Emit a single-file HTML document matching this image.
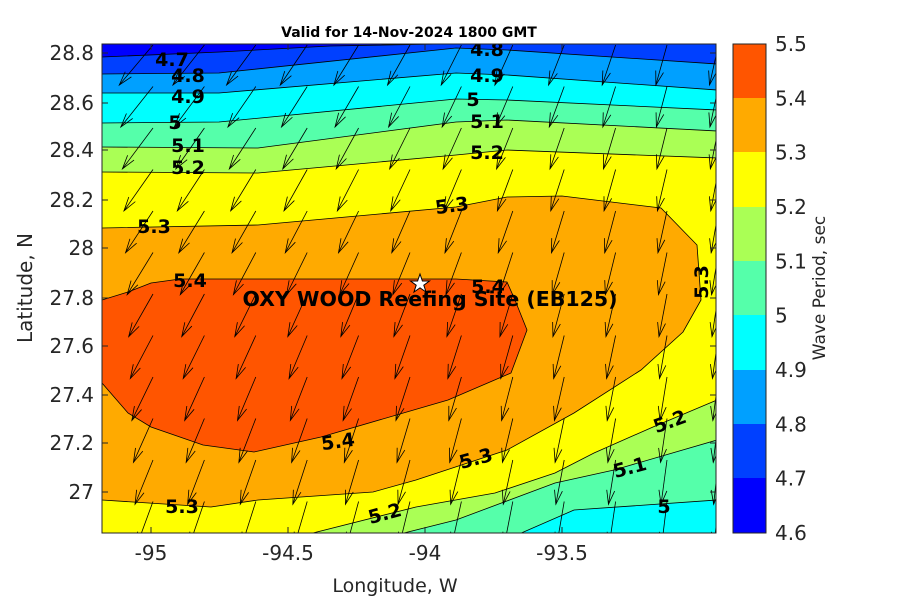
<!DOCTYPE html>
<html><head><meta charset="utf-8"><style>
html,body{margin:0;padding:0;background:#fff;}
svg{display:block;font-family:"DejaVu Sans","Liberation Sans",sans-serif;}
</style></head><body>
<svg id="s" width="900" height="600" viewBox="0 0 900 600" xmlns="http://www.w3.org/2000/svg">
<defs><clipPath id="c"><rect x="102" y="44" width="614" height="489"/></clipPath></defs>
<g clip-path="url(#c)">
<rect x="102" y="44" width="614" height="489" fill="#ffff00"/>
<polygon fill="#aaff55" points="102,30 102,172 258,173 456,155 507,150 717,158 717,30"/>
<polygon fill="#55ffaa" points="102,30 102,147 258,148 456,122 507,120 717,131 717,30"/>
<polygon fill="#00ffff" points="102,30 102,123 219,122 456,99 507,100 717,110 717,30"/>
<polygon fill="#00a0ff" points="102,30 102,93 219,93 456,73 507,75 717,90 717,30"/>
<polygon fill="#0040ff" points="102,30 102,74 219,73 456,48 507,50 717,64 717,30"/>
<polygon fill="#0000ff" points="102,30 102,57 220,52 330,46 440,44 440,30"/>
<polygon fill="#aaff55" points="309,540 309,534 416,507 495,493 555,473 594,453 653,427 717,400 717,540"/>
<polygon fill="#55ffaa" points="400,540 400,534 456,520 555,483 614,470 717,440 717,540"/>
<polygon fill="#00ffff" points="519,540 519,534 574,510 717,500 717,540"/>
<polygon fill="#ffaa00" points="102,228 258,225 456,207 507,197 562,196 661,208 697,245 701,300 683,332 641,370 574,413 507,450 416,480 373,492 258,500 211,507 102,500"/>
<polygon fill="#ff5500" points="102,300 128,292 151,283 180,279 456,279 507,282 515,300 527,330 511,373 448,400 321,437 254,452 203,445 151,427 128,413 102,383"/>
<g fill="none" stroke="#000" stroke-width="0.8">
<polyline points="102,57 220,52 330,46 440,44"/>
<polyline points="102,74 219,73 456,48 507,50 717,64"/>
<polyline points="102,93 219,93 456,73 507,75 717,90"/>
<polyline points="102,123 219,122 456,99 507,100 717,110"/>
<polyline points="102,147 258,148 456,122 507,120 717,131"/>
<polyline points="102,172 258,173 456,155 507,150 717,158"/>
<polyline points="309,534 416,507 495,493 555,473 594,453 653,427 717,400"/>
<polyline points="400,534 456,520 555,483 614,470 717,440"/>
<polyline points="519,534 574,510 717,500"/>
<polyline points="102,228 258,225 456,207 507,197 562,196 661,208 697,245 701,300 683,332 641,370 574,413 507,450 416,480 373,492 258,500 211,507 102,500"/>
<polyline points="102,300 128,292 151,283 180,279 456,279 507,282 515,300 527,330 511,373 448,400 321,437 254,452 203,445 151,427 128,413 102,383"/>
</g>
<g id="arr" stroke="#000" stroke-width="0.8" fill="none"></g>
<g font-size="19" font-weight="bold" text-anchor="middle" dominant-baseline="central" fill="#000">
<text x="172" y="60">4.7</text><text x="188" y="76">4.8</text><text x="188" y="97">4.9</text>
<text x="175" y="123">5</text><text x="188" y="146">5.1</text><text x="188" y="168">5.2</text>
<text x="154" y="227">5.3</text><text x="190" y="281">5.4</text>
<text x="487" y="50">4.8</text><text x="487" y="76">4.9</text><text x="473" y="100">5</text>
<text x="487" y="122">5.1</text><text x="487" y="153">5.2</text>
<text x="452" y="206" transform="rotate(-8 452 206)">5.3</text>
<text x="488" y="287">5.4</text>
<text x="702" y="282" transform="rotate(-90 702 282)">5.3</text>
<text x="338" y="442" transform="rotate(-8 338 442)">5.4</text>
<text x="476" y="459" transform="rotate(-15 476 459)">5.3</text>
<text x="385" y="514" transform="rotate(-15 385 514)">5.2</text>
<text x="182" y="507">5.3</text>
<text x="670" y="422" transform="rotate(-20 670 422)">5.2</text>
<text x="630" y="468" transform="rotate(-15 630 468)">5.1</text>
<text x="664" y="507">5</text>
<text x="430" y="299" font-size="20.5">OXY WOOD Reefing Site (EB125)</text>
</g>
<polygon fill="#fff" stroke="#000" stroke-width="1" points="420,274 422.4,281 429.5,281 423.8,285.2 426,292 420,287.8 414,292 416.2,285.2 410.5,281 417.6,281"/>
</g>
<rect x="102" y="44" width="614" height="489" fill="none" stroke="#262626" stroke-width="1"/>
<g stroke="#262626" stroke-width="1" id="ticks"></g>
<g font-size="20" fill="#262626" text-anchor="middle">
<text x="151" y="560">-95</text><text x="288" y="560">-94.5</text><text x="425" y="560">-94</text><text x="562" y="560">-93.5</text>
<text x="395" y="592" font-size="19">Longitude, W</text>
</g>
<g font-size="20" fill="#262626" text-anchor="end" dominant-baseline="central">
<text x="94" y="53">28.8</text><text x="94" y="103">28.6</text><text x="94" y="150">28.4</text>
<text x="94" y="200">28.2</text><text x="94" y="248">28</text><text x="94" y="298">27.8</text>
<text x="94" y="346">27.6</text><text x="94" y="395">27.4</text><text x="94" y="443">27.2</text>
<text x="94" y="492">27</text>
</g>
<text x="32" y="288" font-size="20" fill="#262626" text-anchor="middle" transform="rotate(-90 32 288)">Latitude, N</text>
<text x="409" y="37" font-size="14" font-weight="bold" text-anchor="middle" fill="#000">Valid for 14-Nov-2024 1800 GMT</text>
<g>
<rect x="733" y="44" width="33" height="55" fill="#ff5500"/>
<rect x="733" y="98" width="33" height="55" fill="#ffaa00"/>
<rect x="733" y="152" width="33" height="55" fill="#ffff00"/>
<rect x="733" y="207" width="33" height="55" fill="#aaff55"/>
<rect x="733" y="261" width="33" height="55" fill="#55ffaa"/>
<rect x="733" y="315" width="33" height="55" fill="#00ffff"/>
<rect x="733" y="370" width="33" height="55" fill="#00a0ff"/>
<rect x="733" y="424" width="33" height="55" fill="#0040ff"/>
<rect x="733" y="478" width="33" height="55" fill="#0000ff"/>
<rect x="733" y="44" width="33" height="489" fill="none" stroke="#262626"/>
</g>
<g font-size="20" fill="#262626" dominant-baseline="central" id="cbl"></g>
<text x="825" y="288" font-size="17" fill="#262626" text-anchor="middle" transform="rotate(-90 825 288)">Wave Period, sec</text>
</svg>
<script>
var NS="http://www.w3.org/2000/svg";
function el(p,t,a,txt){var e=document.createElementNS(NS,t);for(var k in a)e.setAttribute(k,a[k]);if(txt)e.textContent=txt;p.appendChild(e);return e;}
var g=document.getElementById("arr");
for(var i=0;i<12;i++)for(var j=0;j<13;j++){
 var x=153+51.4*i,y=45+41.5*j;
 var u=(x-102)/614,v=(y-44)/489;
 var dx=-36*(1-0.75*u)*(1-0.55*v),dy=40+5*v;
 var hx=x+dx,hy=y+dy,L=Math.sqrt(dx*dx+dy*dy),ux=dx/L,uy=dy/L,h=14,w=4;
 el(g,"line",{x1:x,y1:y,x2:hx,y2:hy});
 el(g,"polyline",{points:(hx-ux*h-uy*w)+","+(hy-uy*h+ux*w)+" "+hx+","+hy+" "+(hx-ux*h+uy*w)+","+(hy-uy*h-ux*w)});
}
var t=document.getElementById("ticks");
[151,288,425,562].forEach(function(x){el(t,"line",{x1:x,y1:533,x2:x,y2:527});el(t,"line",{x1:x,y1:44,x2:x,y2:50});});
[53,103,150,200,248,298,346,395,443,492].forEach(function(y){el(t,"line",{x1:102,y1:y,x2:108,y2:y});el(t,"line",{x1:716,y1:y,x2:710,y2:y});});
var c=document.getElementById("cbl");
var labs=["5.5","5.4","5.3","5.2","5.1","5","4.9","4.8","4.7","4.6"];
for(var k=0;k<10;k++){var y=44+k*54.33;el(c,"text",{x:775,y:y},labs[k]);el(t,"line",{x1:766,y1:y,x2:761,y2:y});}
</script>
</body></html>
